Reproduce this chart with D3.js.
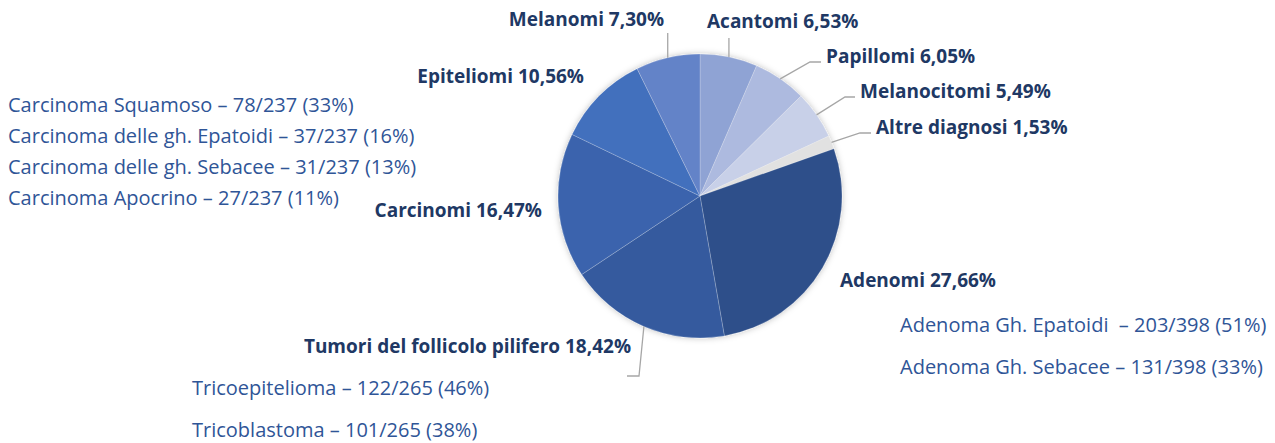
<!DOCTYPE html>
<html>
<head>
<meta charset="utf-8">
<script src="https://cdn.jsdelivr.net/npm/d3@7"></script>
<style>
  body { margin: 0; background: #fff; }
  svg { display: block; font-family: "Open Sans", Lato, sans-serif; }
</style>
</head>
<body>
<div id="chart"></div>
<script>
// data
var categories = ["Acantomi", "Papillomi", "Melanocitomi", "Altre diagnosi", "Adenomi",
                  "Tumori del follicolo pilifero", "Carcinomi", "Epiteliomi", "Melanomi"];
var shares = [6.53, 6.05, 5.49, 1.53, 27.66, 18.42, 16.47, 10.56, 7.30];
var colors = ["#8fa3d4", "#adbadf", "#c8d0e8", "#e1e1e1", "#2e4f8a", "#345a9e", "#3b64ad", "#426fbd", "#6483c8"];

var carcinomaNames = ["Carcinoma Squamoso", "Carcinoma delle gh. Epatoidi", "Carcinoma delle gh. Sebacee", "Carcinoma Apocrino"];
var carcinomaCounts = [78, 37, 31, 27];
var carcinomaTotal = 237;

var follicoloNames = ["Tricoepitelioma", "Tricoblastoma"];
var follicoloCounts = [122, 101];
var follicoloTotal = 265;

var adenomaNames = ["Adenoma Gh. Epatoidi ", "Adenoma Gh. Sebacee"];
var adenomaCounts = [203, 131];
var adenomaTotal = 398;

var width = 1275, height = 443,
    cx = 700, cy = 196, radius = 142;

var it = d3.formatLocale({ decimal: ",", thousands: ".", grouping: [3], currency: ["", "€"] });
var fmt = it.format(".2f");

// where each label sits and how its leader bends (layout only)
var labelLayout = [
  { x: 707, y: 28, anchor: "start", leader: [["arc", 38]] },
  { x: 826, y: 63, anchor: "start", leader: [[810, 62], [821, 62]] },
  { x: 860, y: 98, anchor: "start", leader: [[845, 97], [855, 97]] },
  { x: 876, y: 134, anchor: "start", leader: [[860, 133], [871, 133]] },
  { x: 840, y: 287, anchor: "start", leader: null },
  { x: 631, y: 353, anchor: "end", leader: [[639, 376], [627, 376]] },
  { x: 542, y: 217, anchor: "end", leader: null },
  { x: 584, y: 83, anchor: "end", leader: null },
  { x: 664, y: 26, anchor: "end", leader: [["arc", 33]] }
];

var svg = d3.select("#chart").append("svg")
    .attr("width", width)
    .attr("height", height);

var defs = svg.append("defs");
defs.append("filter")
    .attr("id", "shadow")
    .attr("x", "-20%").attr("y", "-20%").attr("width", "140%").attr("height", "140%")
  .append("feDropShadow")
    .attr("dx", 0).attr("dy", 0)
    .attr("stdDeviation", 3)
    .attr("flood-color", "#000")
    .attr("flood-opacity", 0.25);

var pie = d3.pie().sort(null).value(function(d) { return d; });
var arcs = pie(shares);

var arc = d3.arc().innerRadius(0).outerRadius(radius);

var g = svg.append("g")
    .attr("transform", "translate(" + cx + "," + cy + ")");

g.append("g")
    .attr("filter", "url(#shadow)")
  .selectAll("path")
  .data(arcs)
  .enter().append("path")
    .attr("d", arc)
    .attr("fill", function(d, i) { return colors[i]; })
    .attr("stroke", "#ffffff")
    .attr("stroke-opacity", 0.35)
    .attr("stroke-width", 0.6);

// leader lines
var edge = function(d) {
  var a = (d.startAngle + d.endAngle) / 2;
  return [cx + radius * Math.sin(a), cy - radius * Math.cos(a)];
};

svg.append("g").selectAll("path")
  .data(arcs.filter(function(d, i) { return labelLayout[i].leader; }))
  .enter().append("path")
    .attr("d", function(d) {
      var p = edge(d);
      var pts = [p].concat(labelLayout[d.index].leader.map(function(q) {
        return [q[0] === "arc" ? p[0] : q[0], q[1]];
      }));
      return d3.line()(pts);
    })
    .attr("fill", "none")
    .attr("stroke", "#a6a6a6")
    .attr("stroke-width", 1.3);

// category labels
svg.append("g").selectAll("text")
  .data(arcs)
  .enter().append("text")
    .attr("x", function(d) { return labelLayout[d.index].x; })
    .attr("y", function(d) { return labelLayout[d.index].y; })
    .attr("text-anchor", function(d) { return labelLayout[d.index].anchor; })
    .attr("font-size", 19)
    .attr("font-weight", "bold")
    .attr("fill", "#203864")
    .text(function(d) { return categories[d.index] + " " + fmt(d.data) + "%"; });

// breakdown lists
var lists = [
  { names: carcinomaNames, counts: carcinomaCounts, total: carcinomaTotal, x: 8, y: 112, step: 31 },
  { names: follicoloNames, counts: follicoloCounts, total: follicoloTotal, x: 192, y: 395, step: 42 },
  { names: adenomaNames, counts: adenomaCounts, total: adenomaTotal, x: 900, y: 332, step: 42 }
];

lists.forEach(function(l) {
  svg.append("g").selectAll("text")
    .data(l.names)
    .enter().append("text")
      .attr("x", l.x)
      .attr("y", function(d, i) { return l.y + i * l.step; })
      .attr("font-size", 20)
      .attr("fill", "#2f5597")
      .attr("xml:space", "preserve")
      .style("white-space", "pre")
      .text(function(d, i) {
        return d + " \u2013 " + l.counts[i] + "/" + l.total + " (" + Math.round(l.counts[i] / l.total * 100) + "%)";
      });
});
</script>
</body>
</html>
